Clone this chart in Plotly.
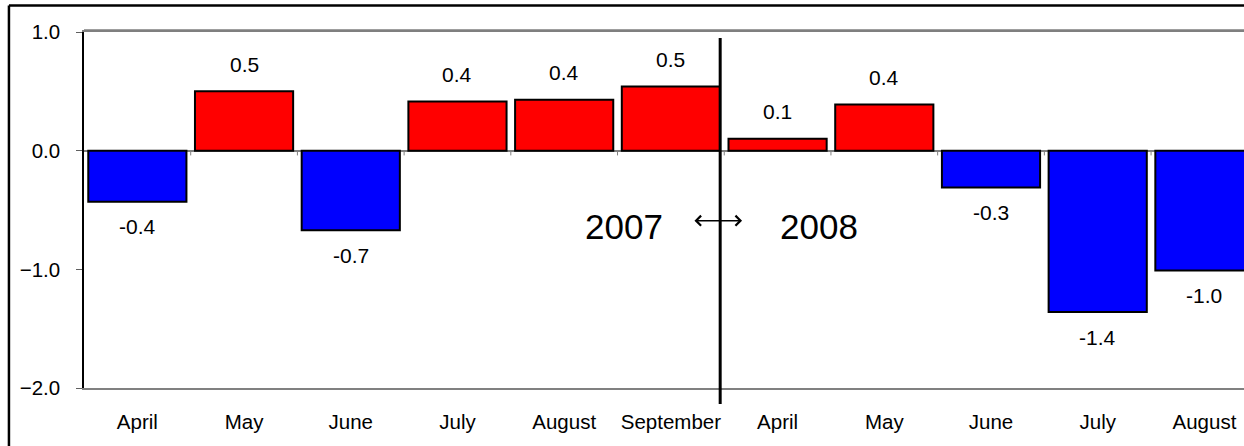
import plotly.graph_objects as go

months = ["April", "May", "June", "July", "August", "September",
          "April", "May", "June", "July", "August"]
values = [-0.43, 0.50, -0.67, 0.415, 0.43, 0.54, 0.10, 0.39, -0.31, -1.36, -1.01]
y_ticks = [1.0, 0.0, -1.0, -2.0]
year_left = "2007"
year_right = "2008"

POS_COLOR = "#FF0000"
NEG_COLOR = "#0000FF"
FONT = "Liberation Sans, Arial, sans-serif"

x = list(range(len(months)))
colors = [POS_COLOR if v >= 0 else NEG_COLOR for v in values]

fig = go.Figure()
fig.add_trace(go.Bar(
    x=x, y=values, width=0.92,
    marker=dict(color=colors, line=dict(color="black", width=2)),
    hoverinfo="skip", showlegend=False,
))

# data labels
for xi, v in zip(x, values):
    fig.add_annotation(
        x=xi, y=v, text=f"{v:.1f}", showarrow=False,
        yshift=27 if v >= 0 else -25, yanchor="middle", xanchor="center",
        font=dict(family=FONT, size=21, color="black"),
    )

# small tick marks on zero line at category boundaries
for k in range(1, len(months)):
    b = k - 0.5
    fig.add_shape(type="line", xref="x", yref="y", x0=b, x1=b, y0=0, y1=-0.04,
                  line=dict(color="#808080", width=1))

# plot-area top border
fig.add_shape(type="rect", xref="paper", yref="paper", x0=0, x1=1.05,
              y0=1.0, y1=1.0075, line=dict(width=0), fillcolor="#7f7f7f",
              layer="above")

# year divider
fig.add_shape(type="line", xref="x", yref="paper", x0=5.462, x1=5.462,
              y0=0.983, y1=-0.045, line=dict(color="black", width=3), layer="above")

fig.add_annotation(x=4.561, y=-0.64, text=year_left, showarrow=False,
                   font=dict(family=FONT, size=35, color="black"))
fig.add_annotation(x=6.388, y=-0.64, text=year_right, showarrow=False,
                   font=dict(family=FONT, size=35, color="black"))
fig.add_annotation(x=5.667, y=-0.59, ax=5.207, ay=-0.59, axref="x", ayref="y",
                   text="", showarrow=True, arrowside="end+start", arrowhead=4,
                   arrowsize=1.3, arrowwidth=1.5, arrowcolor="black")

# outer frame lines
fig.add_shape(type="line", xref="paper", yref="paper", x0=-0.0647, x1=1.1,
              y0=1.0745, y1=1.0745, line=dict(color="black", width=2.5))
fig.add_shape(type="line", xref="paper", yref="paper", x0=-0.0647, x1=-0.0647,
              y0=1.0745, y1=-0.3, line=dict(color="black", width=2.5))

fig.update_layout(
    width=1244, height=446, autosize=False,
    margin=dict(l=84, r=0, t=32, b=58),
    plot_bgcolor="white", paper_bgcolor="white",
    font=dict(family=FONT, size=21, color="black"),
    xaxis=dict(
        range=[-0.5, 10.371], tickvals=x, ticktext=months,
        showgrid=False, zeroline=False,
        showline=True, mirror=True, linecolor="#808080", linewidth=2,
        ticks="", ticklabelstandoff=14,
        tickfont=dict(family=FONT, size=20.5, color="black"),
    ),
    yaxis=dict(
        range=[-2, 1], tickvals=y_ticks, tickformat=".1f",
        showgrid=False, zeroline=True, zerolinecolor="#808080", zerolinewidth=1.5,
        showline=True, mirror=False, linecolor="black", linewidth=1.5,
        ticks="outside", ticklen=6, tickcolor="#606060", tickwidth=1,
        ticklabelstandoff=12,
        tickfont=dict(family=FONT, size=20.5, color="black"),
    ),
)

fig.write_html(
    "out.html",
    config={"displayModeBar": False},
    post_script="document.body.style.margin='0';document.body.style.overflow='hidden';",
)
